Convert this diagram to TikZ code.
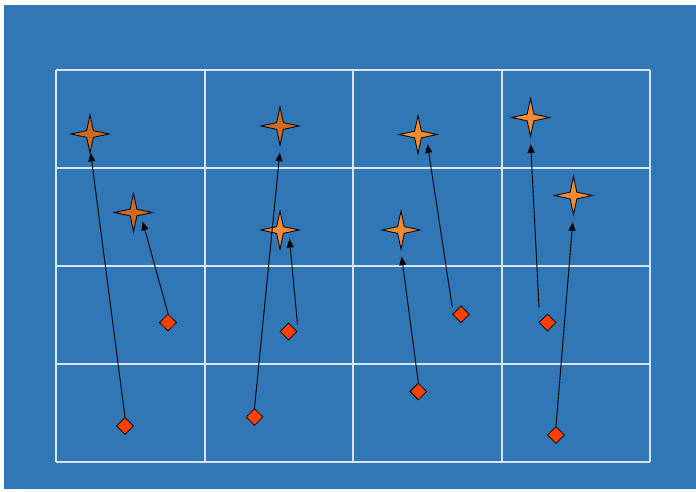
\documentclass[tikz,border=0pt]{standalone}
\usetikzlibrary{shapes.geometric,arrows.meta}
\definecolor{bgblue}{RGB}{49,118,181}
\definecolor{gridc}{RGB}{215,228,242}
\definecolor{stardark}{RGB}{210,105,30}
\definecolor{starlight}{RGB}{242,138,52}
\definecolor{diam}{RGB}{255,64,0}
\tikzset{
  starbase/.style={star, star points=4, star point ratio=4.0, minimum size=38pt, inner sep=0pt, draw=black, line width=0.8pt},
  stardk/.style={starbase, fill=stardark},
  starlt/.style={starbase, fill=starlight},
  diamondbox/.style={diamond, minimum width=17pt, minimum height=17pt, inner sep=0pt, draw=black, line width=0.8pt, fill=diam},
  arr/.style={draw=black, line width=0.9pt, -{Triangle[length=8.5pt,width=7pt]}},
  gridline/.style={draw=gridc, line width=2pt}
}
\begin{document}
\begin{tikzpicture}[x=1pt,y=-1pt]
\useasboundingbox (0,0) rectangle (696,491);
\fill[white] (0,0) rectangle (696,491);
\fill[bgblue] (4,5) rectangle (696,489);
% grid
\foreach \x in {56,204.5,353,501.5,650} \draw[gridline] (\x,70) -- (\x,462);
\foreach \y in {70,168,266,364,462} \draw[gridline] (56,\y) -- (650,\y);
% stars
\node[stardk] (s1) at (90,134) {};
\node[stardk] (s2) at (133.5,212.5) {};
\node[stardk] (s3) at (280,126) {};
\node[starlt] (s4) at (280,230) {};
\node[starlt] (s5) at (418,134.5) {};
\node[starlt] (s6) at (401,230) {};
\node[starlt] (s7) at (530.5,117.5) {};
\node[starlt] (s8) at (573.5,195.5) {};
% diamonds
\node[diamondbox] (d1) at (125,426) {};
\node[diamondbox] (d2) at (168,322.5) {};
\node[diamondbox] (d3) at (254.5,417) {};
\node[diamondbox] (d4) at (288.5,331.5) {};
\node[diamondbox] (d5) at (418.3,391.5) {};
\node[diamondbox] (d6) at (461,314.3) {};
\node[diamondbox] (d7) at (547.5,322.5) {};
\node[diamondbox] (d8) at (556,435) {};
% arrow end points
\coordinate (t1) at (90.7,153);
\coordinate (t2) at (142.7,221.7);
\coordinate (t3) at (279.8,152.7);
\coordinate (t4) at (289.5,239);
\coordinate (t5) at (401.7,256.7);
\coordinate (t6) at (427.5,144.3);
\coordinate (t7) at (530.7,144.3);
\coordinate (t8) at (572.7,222.3);
\coordinate (b4) at (297.5,324.3);
\coordinate (b6) at (452.3,307.3);
\coordinate (b7) at (539,307.3);
% arrows
\draw[arr] (d1.north) -- (t1);
\draw[arr] (d2.north) -- (t2);
\draw[arr] (d3.north) -- (t3);
\draw[arr] (b4) -- (t4);
\draw[arr] (d5.north) -- (t5);
\draw[arr] (b6) -- (t6);
\draw[arr] (b7) -- (t7);
\draw[arr] (d8.north) -- (t8);
\end{tikzpicture}
\end{document}
